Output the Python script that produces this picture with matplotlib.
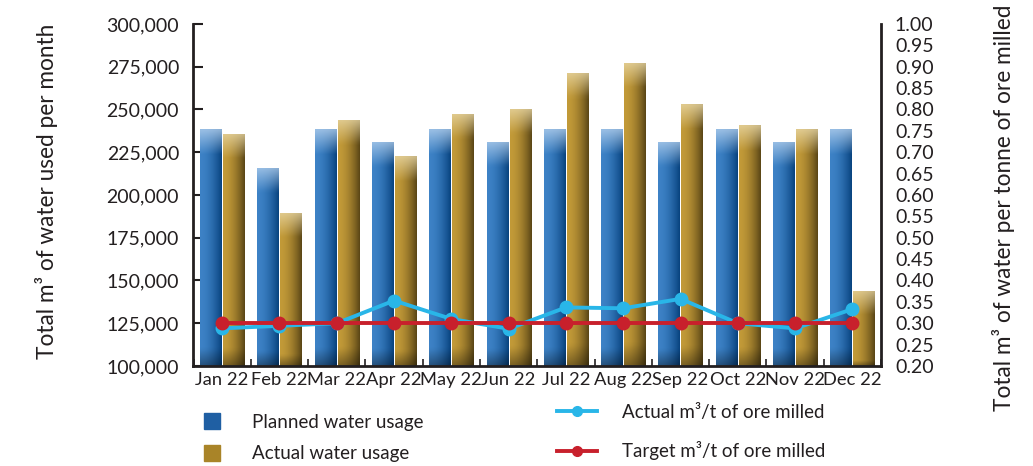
import numpy as np
import matplotlib.pyplot as plt
from matplotlib.lines import Line2D
from matplotlib.colors import to_rgb

plt.rcParams['font.family'] = ['Lato', 'DejaVu Sans']
plt.rcParams['text.color'] = '#231f20'
plt.rcParams['axes.labelcolor'] = '#231f20'
plt.rcParams['xtick.color'] = '#231f20'
plt.rcParams['ytick.color'] = '#231f20'

# -------------------------------------------------------------------------
# Data
# -------------------------------------------------------------------------
months = ['Jan 22', 'Feb 22', 'Mar 22', 'Apr 22', 'May 22', 'Jun 22',
          'Jul 22', 'Aug 22', 'Sep 22', 'Oct 22', 'Nov 22', 'Dec 22']
planned = [238500, 215800, 238500, 231000, 238500, 231000,
           238500, 238500, 231000, 238500, 231000, 238500]
actual = [235700, 189500, 243900, 222800, 247400, 250300,
          271400, 277200, 253200, 240900, 238500, 143900]
actual_ratio = [0.288, 0.294, 0.300, 0.353, 0.310, 0.287,
                0.337, 0.335, 0.357, 0.300, 0.288, 0.333]
target_ratio = [0.30] * 12

y_ticks = np.arange(100000, 300001, 25000)
r_ticks = np.arange(0.20, 1.001, 0.05)


def gradient_fill(ax, bar, light, mid, dark, ybottom):
    # left-to-right shading plus a light highlight at the top of the bar
    x0, w, h = bar.get_x(), bar.get_width(), bar.get_height()
    rows, cols = 80, 40
    hx = np.linspace(0, 1, cols) ** 1.8
    light, mid, dark = map(np.array, (to_rgb(light), to_rgb(mid), to_rgb(dark)))
    base = mid[None, :] * (1 - hx[:, None]) + dark[None, :] * hx[:, None]
    img = np.repeat(base[None, :, :], rows, axis=0)
    span = h - ybottom
    hl = min(14000 / span, 0.6)
    yy = np.linspace(0, 1, rows)  # 0 = top
    wgt = np.clip(1 - yy / hl, 0, 1) * 0.75
    img = img * (1 - wgt[:, None, None]) + light[None, None, :] * wgt[:, None, None]
    bot = np.clip((yy - 0.93) / 0.07, 0, 1) * 0.35
    img = img * (1 - bot[:, None, None])
    im = ax.imshow(img, extent=(x0, x0 + w, ybottom, h), aspect='auto',
                   origin='upper', zorder=2, interpolation='bilinear')
    im.set_clip_path(bar)


fig = plt.figure(figsize=(10.33, 4.66), dpi=100)
ax = fig.add_axes([0.1868, 0.2146, 0.6661, 0.7339])
ax2 = ax.twinx()

x = np.arange(len(months))
w = 0.37
ax.set_xlim(-0.51, 11.49)
ax.set_ylim(100000, 300000)

b1 = ax.bar(x - 0.2, planned, w, color='#2a6fb5', zorder=1)
b2 = ax.bar(x + 0.2, actual, w, color='#a98428', zorder=1)
for bar in b1:
    gradient_fill(ax, bar, '#b5d1ee', '#3d82c6', '#08437f', 100000)
for bar in b2:
    gradient_fill(ax, bar, '#ead9a8', '#c29a38', '#5a4616', 100000)
ax.set_xlim(-0.51, 11.49)
ax.set_ylim(100000, 300000)

ax.set_yticks(y_ticks)
ax.set_yticklabels([f'{v:,.0f}' for v in y_ticks])
ax.tick_params(axis='y', direction='in', length=7, width=1.5, labelsize=14, pad=10)
ax.set_xticks(x)
ax.set_xticklabels(months)
ax.set_xticks(np.arange(-0.5, 12, 1), minor=True)
ax.tick_params(axis='x', which='major', length=0, labelsize=13.2, pad=4)
ax.tick_params(axis='x', which='minor', direction='in', length=5, width=1.2)

for s in ['left', 'bottom']:
    ax.spines[s].set_linewidth(2)
    ax.spines[s].set_color('#231f20')
ax.spines['top'].set_visible(False)
ax.spines['right'].set_visible(False)

ax2.plot(x, actual_ratio, color='#29b6e8', lw=2.8, marker='o', ms=9, zorder=3)
ax2.plot(x, target_ratio, color='#c8202c', lw=2.8, marker='o', ms=9, zorder=4)
ax2.set_ylim(0.20, 1.00)
ax2.set_yticks(r_ticks)
ax2.set_yticklabels([f'{v:.2f}' for v in r_ticks])
ax2.tick_params(axis='y', length=0, labelsize=14, pad=10)
for s in ['left', 'top', 'bottom']:
    ax2.spines[s].set_visible(False)
ax2.spines['right'].set_linewidth(2)
ax2.spines['right'].set_color('#231f20')

ax.set_ylabel('Total m³ of water used per month', fontsize=16.3)
ax.yaxis.set_label_coords(-0.196, 0.512)
ax2.set_ylabel('Total m³ of water per tonne of ore milled', fontsize=16.3, rotation=90)
ax2.yaxis.set_label_coords(1.161, 0.463)

# Legend
sq = [Line2D([], [], ls='none', marker='s', ms=12, color='#1f5fa3'),
      Line2D([], [], ls='none', marker='s', ms=12, color='#a98428')]
ln = [Line2D([], [], color='#29b6e8', lw=2.8, marker='o', ms=7),
      Line2D([], [], color='#c8202c', lw=2.8, marker='o', ms=7)]
leg1 = fig.legend(sq, ['Planned water usage', 'Actual water usage'],
                  loc='center left', bbox_to_anchor=(0.192, 0.060),
                  frameon=False, fontsize=13.5, handlelength=1.5,
                  handletextpad=1.35, labelspacing=0.76,
                  borderpad=0, borderaxespad=0, numpoints=1)
leg2 = fig.legend(ln, ['Actual m³/t of ore milled', 'Target m³/t of ore milled'],
                  loc='center left', bbox_to_anchor=(0.539, 0.073),
                  frameon=False, fontsize=13.5, handlelength=2.13,
                  handletextpad=1.33, labelspacing=1.1,
                  borderpad=0, borderaxespad=0, numpoints=1)

fig.savefig('out.png', dpi=100)
